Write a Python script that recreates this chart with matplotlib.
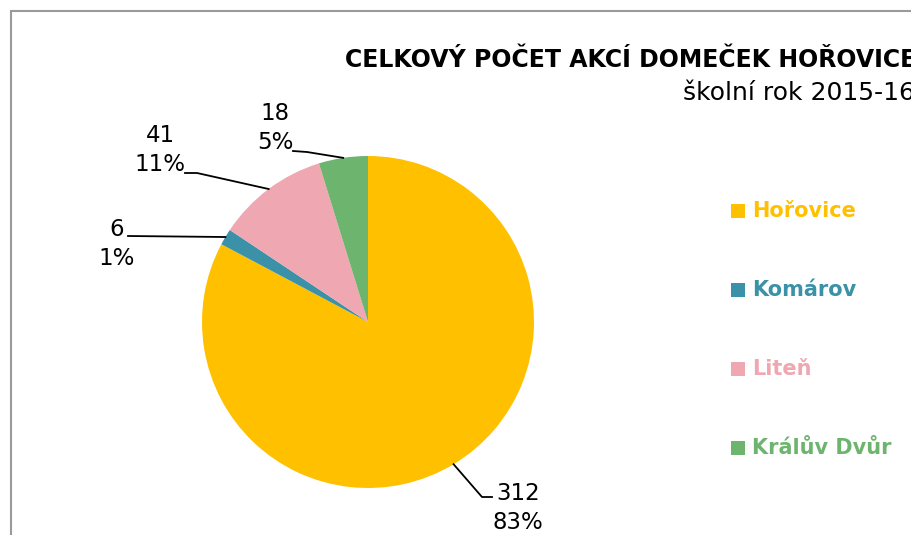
import matplotlib
matplotlib.use("Agg")
import matplotlib.pyplot as plt
import numpy as np

# data
categories = ["Hořovice", "Komárov", "Liteň", "Králův Dvůr"]
counts = [312, 6, 41, 18]
percents = ["83%", "1%", "11%", "5%"]
colors = ["#FFC000", "#3A91A8", "#EFA7B1", "#6DB56E"]

title = "CELKOVÝ POČET AKCÍ DOMEČEK HOŘOVICE"
subtitle = "školní rok 2015-16"

W, H = 912, 535
fig = plt.figure(figsize=(W / 100, H / 100), dpi=100)
ax = fig.add_axes([0, 0, 1, 1])

def py(y):
    # image row -> axis y
    return H - y

# chart frame (cropped at right and bottom)
ax.plot([11, 11, W + 5], [py(H + 5), py(11), py(11)], color="#9A9A9A", lw=1.5,
        solid_joinstyle="miter")

cx, cy, r = 368, 322, 166
wedges, _ = ax.pie(counts, colors=colors, startangle=90, counterclock=False,
                   center=(cx, py(cy)), radius=r, frame=True,
                   wedgeprops=dict(linewidth=0))
ax.set_xlim(0, W)
ax.set_ylim(0, H)
ax.set_aspect("equal")
ax.axis("off")

# label layout: text center, elbow point, line end (image coords)
label_pos = {
    "Hořovice": ((518, 508), (482, 497), (492, 497)),
    "Komárov": ((117, 244), (128, 236), (128, 236)),
    "Liteň": ((160, 150), (197, 173), (185, 173)),
    "Králův Dvůr": ((275, 128), (307, 152), (293, 151)),
}

for w, name, n, pct in zip(wedges, categories, counts, percents):
    mid = np.deg2rad((w.theta1 + w.theta2) / 2)
    ex = cx + r * np.cos(mid)
    ey = py(cy) + r * np.sin(mid)
    (tx, ty), (bx, by), (sx, sy) = label_pos[name]
    ax.plot([ex, bx, sx], [ey, py(by), py(sy)], color="black", lw=1.3)
    ax.text(tx, py(ty), f"{n}\n{pct}", ha="center", va="center",
            fontsize=16.5, linespacing=1.3, color="black")

# title (cut by the right edge, as in the original)
ax.text(345, py(60), title, ha="left", va="center", fontsize=17,
        fontweight="bold", color="black", clip_on=False)
ax.text(683, py(93), subtitle, ha="left", va="center", fontsize=18,
        color="black", clip_on=False)

# legend
leg_y = [211, 290, 369, 448]
for name, c, y in zip(categories, colors, leg_y):
    ax.add_patch(plt.Rectangle((731, py(y) - 7), 14, 14, color=c, lw=0))
    ax.text(752, py(y), name, ha="left", va="center", fontsize=15,
            fontweight="bold", color=c)

fig.savefig("out.png", dpi=100)
